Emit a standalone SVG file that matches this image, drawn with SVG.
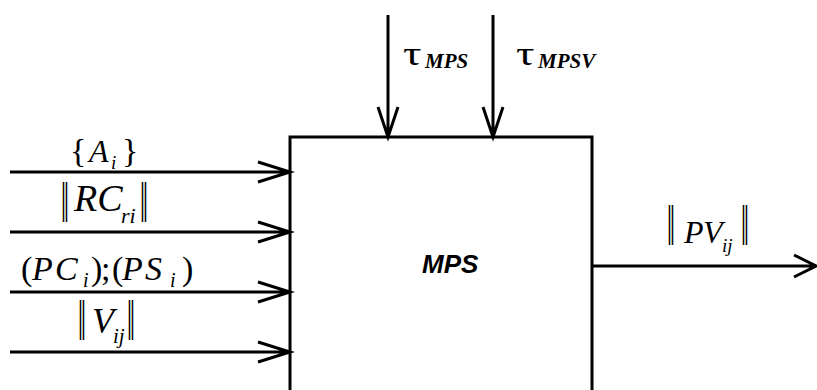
<svg xmlns="http://www.w3.org/2000/svg" width="817" height="390" viewBox="0 0 817 390">
<defs>
<style>
.ln{fill:none;stroke:#000;stroke-width:3;stroke-linecap:butt;stroke-linejoin:miter}
.m{font-family:"Liberation Serif","Times New Roman",serif;font-style:italic;fill:#000}
.u{font-family:"Liberation Serif","Times New Roman",serif;font-style:normal;fill:#000}
.b{font-family:"Liberation Serif","Times New Roman",serif;font-style:italic;font-weight:bold;fill:#000}
.bar{font-family:"Liberation Serif","DejaVu Serif",serif;fill:#000;text-anchor:middle}
.t{font-family:"Liberation Serif","DejaVu Serif",serif;fill:#000}
</style>
</defs>
<rect width="817" height="390" fill="#fff"/>
<g id="node-mps">
<path class="ln" d="M290,392 V137 H592 V392"/>
<text x="422" y="273" font-family="Liberation Sans, Arial, sans-serif" font-weight="bold" font-style="italic" font-size="26">MPS</text>
</g>
<g id="connectors">
<path class="ln" d="M10,172 H290 M258,162 L290,172 L258,182"/>
<path class="ln" d="M10,232 H290 M258,222 L290,232 L258,242"/>
<path class="ln" d="M10,292 H290 M258,282 L290,292 L258,302"/>
<path class="ln" d="M10,352 H290 M258,342 L290,352 L258,362"/>
<path class="ln" d="M388,15 V137 M378,107 L388,137 L398,107"/>
<path class="ln" d="M493,15 V137 M483,107 L493,137 L503,107"/>
<path class="ln" d="M592,266 H816 M794,255 L816,266 L794,277"/>
</g>
<g id="labels">
<g id="label-A">
<text class="u" x="70" y="162" font-size="34">{</text>
<text class="m" x="89" y="162" font-size="32">A</text>
<text class="m" x="111" y="169" font-size="19">i</text>
<text class="u" x="122" y="162" font-size="34">}</text>
</g>
<g id="label-RC">
<text class="bar" transform="translate(65,222) scale(0.75,1.4)" font-size="40">‖</text>
<text class="m" x="74" y="211" font-size="38">RC</text>
<text class="m" x="121" y="223" font-size="22">ri</text>
<text class="bar" transform="translate(144,222) scale(0.75,1.4)" font-size="40">‖</text>
</g>
<g id="label-PC">
<text class="u" x="21" y="280" font-size="34">(</text>
<text class="m" x="32" y="280" font-size="34">P</text>
<text class="m" x="55" y="280" font-size="34">C</text>
<text class="m" x="83" y="287" font-size="20">i</text>
<text class="u" x="91" y="280" font-size="34">)</text>
<text class="u" x="101" y="280" font-size="34">;</text>
<text class="u" x="112" y="280" font-size="34">(</text>
<text class="m" x="122" y="280" font-size="34">P</text>
<text class="m" x="145" y="280" font-size="34">S</text>
<text class="m" x="170" y="287" font-size="20">i</text>
<text class="u" x="182" y="280" font-size="34">)</text>
</g>
<g id="label-V">
<text class="bar" transform="translate(82,340) scale(0.75,1.4)" font-size="40">‖</text>
<text class="m" x="92" y="333" font-size="36">V</text>
<text class="m" x="113" y="343" font-size="21">ij</text>
<text class="bar" transform="translate(131,340) scale(0.75,1.4)" font-size="40">‖</text>
</g>
<g id="label-PV">
<text class="bar" transform="translate(671,245) scale(0.75,1.4)" font-size="40">‖</text>
<text class="m" x="684" y="243" font-size="32">P</text>
<text class="m" x="703" y="243" font-size="32">V</text>
<text class="m" x="722" y="252" font-size="19">ij</text>
<text class="bar" transform="translate(745,245) scale(0.75,1.4)" font-size="40">‖</text>
</g>
<g id="label-tau1">
<text class="t" transform="translate(403,65) scale(1.35,1)" font-size="34">τ</text>
<text class="b" x="425" y="68" font-size="21">MPS</text>
</g>
<g id="label-tau2">
<text class="t" transform="translate(516,65) scale(1.35,1)" font-size="34">τ</text>
<text class="b" x="538" y="68" font-size="21">MPSV</text>
</g>
</g>
</svg>
